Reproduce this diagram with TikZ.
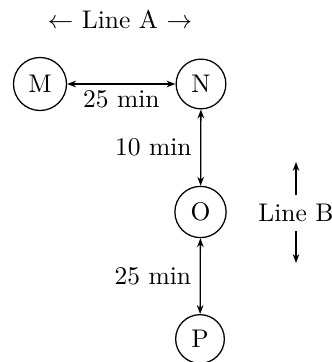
\documentclass[tikz,border=0pt]{standalone}
\usetikzlibrary{arrows.meta}
\begin{document}
\begin{tikzpicture}[x=0.392pt,y=-0.392pt,
  stn/.style={circle,draw,line width=0.5pt},
  conn/.style={{Stealth[length=3.5pt,width=2.6pt]}-{Stealth[length=3.5pt,width=2.6pt]},line width=0.5pt},
  oneway/.style={-{Stealth[length=3.5pt,width=2.6pt]},line width=0.5pt}]
\useasboundingbox (0,0) rectangle (331,362);
\node[stn] (M) at (40,84) {M};
\node[stn] (N) at (201,84) {N};
\node[stn] (O) at (200.5,212) {O};
\node[stn] (P) at (200,339) {P};
\draw[conn] (M) -- node[below,yshift=1pt] {25 min} (N);
\draw[conn] (N) -- node[left] {10 min} (O);
\draw[conn] (O) -- node[left] {25 min} (P);
\node (LA) at (120,20) {$\leftarrow$ Line A $\rightarrow$};
\node (LB) at (296,213) {Line B};
\coordinate (up) at (296,162);
\coordinate (dn) at (296,263);
\draw[oneway] (LB.north) -- (up);
\draw[oneway] (LB.south) -- (dn);
\end{tikzpicture}
\end{document}
